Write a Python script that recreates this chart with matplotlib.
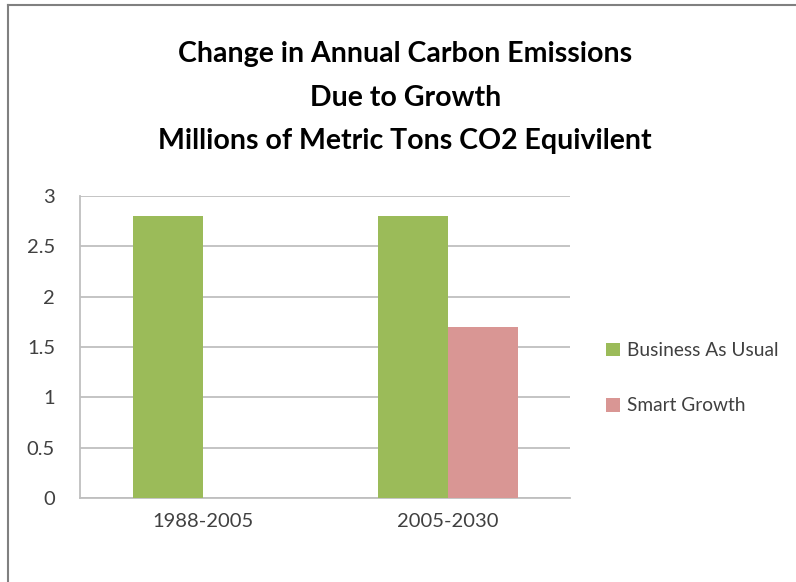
import numpy as np
import matplotlib.pyplot as plt
from matplotlib.lines import Line2D

plt.rcParams['font.family'] = ['Lato', 'DejaVu Sans']

# Data
periods = ['1988-2005', '2005-2030']
business_as_usual = [2.8, 2.8]
smart_growth = [0, 1.7]
y_ticks = [0, 0.5, 1, 1.5, 2, 2.5, 3]
y_tick_labels = ['0', '0.5', '1', '1.5', '2', '2.5', '3']

green = '#9BBB59'
pink = '#D99694'

fig = plt.figure(figsize=(7.96, 5.82), dpi=100)
ax = fig.add_axes([0.1005, 0.1443, 0.6156, 0.519])

x = np.arange(len(periods))
w = 0.2857
ax.bar(x - w / 2, business_as_usual, w, color=green, label='Business As Usual', zorder=3)
ax.bar(x + w / 2, smart_growth, w, color=pink, label='Smart Growth', zorder=3)

ax.set_xlim(-0.5, 1.5)
ax.set_ylim(0, 3)
ax.set_yticks(y_ticks)
ax.set_yticklabels(y_tick_labels)
ax.set_xticks(x)
ax.set_xticklabels(periods)
ax.tick_params(axis='both', length=0, labelsize=14.5, colors='#404040')
ax.tick_params(axis='y', pad=18)
ax.tick_params(axis='x', pad=11)
ax.grid(axis='y', color='#BFBFBF', linewidth=1.3, zorder=0)
for s in ['top', 'right']:
    ax.spines[s].set_visible(False)
for s in ['left', 'bottom']:
    ax.spines[s].set_color('#BFBFBF')
    ax.spines[s].set_linewidth(1.3)

# Title
fig.text(0.509, 0.832, 'Change in Annual Carbon Emissions\nDue to Growth\nMillions of Metric Tons CO2 Equivilent',
         ha='center', va='center', fontsize=20.5, fontweight='bold', color='black', linespacing=1.83)

# Legend
fig.legend(loc='center left', bbox_to_anchor=(0.74, 0.35), frameon=False, fontsize=13.8,
           handlelength=0.72, handleheight=0.72, handletextpad=0.35, labelspacing=2.0,
           labelcolor='#404040')

# Outer frame on the left and top edges
fig.add_artist(Line2D([0.0101, 0.0101], [0, 0.991], color='#808080', linewidth=1.5))
fig.add_artist(Line2D([0.0101, 1.0], [0.991, 0.991], color='#808080', linewidth=1.5))

fig.savefig('out.png', dpi=100)
